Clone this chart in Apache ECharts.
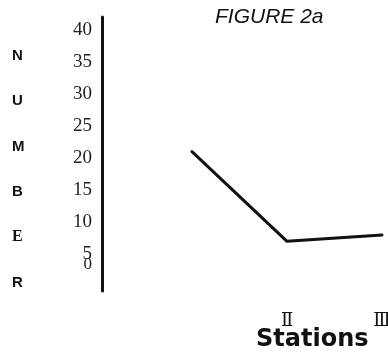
<!DOCTYPE html>
<html>
<head>
<meta charset="utf-8">
<script src="https://cdn.jsdelivr.net/npm/echarts@6/dist/echarts.min.js"></script>
<style>html,body{margin:0;padding:0;background:#fff;}#c{width:388px;height:358px;}</style>
</head>
<body>
<div id="c"></div>
<script>
const categories = ['Ⅰ', 'Ⅱ', 'Ⅲ'];
const values = [21, 7, 8];
const yTickValues = [5, 10, 15, 20, 25, 30, 35, 40];
const yZeroTick = [0];
const titleText = 'FIGURE 2a';
const xName = 'Stations';
const yNameLetters = ['N', 'U', 'M', 'B', 'E', 'R'];

const chart = echarts.init(document.getElementById('c'));
const yBase = {
  type: 'value', min: -0.75, max: 42, offset: 90, position: 'left',
  axisTick: { show: false }, splitLine: { show: false }
};
chart.setOption({
  animation: false,
  backgroundColor: '#fff',
  title: {
    text: titleText, left: 210, top: 2,
    textStyle: { fontFamily: 'Liberation Sans', fontStyle: 'italic', fontWeight: 'normal', fontSize: 21, color: '#111' }
  },
  grid: { left: 192, top: 17, width: 190, height: 274, containLabel: false, outerBoundsMode: 'none' },
  xAxis: {
    type: 'category', data: categories, boundaryGap: false,
    axisLine: { show: false }, axisTick: { show: false }, splitLine: { show: false },
    axisLabel: {
      margin: 21, fontFamily: 'DejaVu Serif', fontSize: 18, color: '#111',
      formatter: (v, i) => i === 0 ? '' : v
    }
  },
  yAxis: [
    Object.assign({}, yBase, {
      axisLine: { show: true, lineStyle: { color: '#111', width: 3 } },
      axisLabel: {
        customValues: yTickValues, margin: 10,
        fontFamily: 'Liberation Serif', fontSize: 19, color: '#222'
      }
    }),
    Object.assign({}, yBase, {
      axisLine: { show: false },
      axisLabel: {
        customValues: yZeroTick, margin: 10, showMinLabel: true,
        fontFamily: 'Liberation Serif', fontSize: 17, color: '#222',
        formatter: v => '{z|' + v + '}',
        rich: { z: { fontFamily: 'Liberation Serif', fontSize: 17, color: '#222', padding: [0, 0, 44, 0] } }
      }
    })
  ],
  graphic: [
    {
      type: 'text', left: 12, top: 33, z: 10,
      style: {
        text: yNameLetters.map(l => l === 'E' ? '{s|' + l + '}' : l).join('\n'),
        fontFamily: 'Liberation Sans', fontWeight: 'bold', fontSize: 15,
        fill: '#111', lineHeight: 45.4, align: 'center',
        rich: { s: { fontFamily: 'Liberation Serif', fontWeight: 'bold', fontSize: 16, fill: '#111', lineHeight: 45.4 } }
      }
    },
    {
      type: 'text', left: 256, top: 328, z: 10,
      style: { text: xName, fontFamily: 'DejaVu Sans', fontWeight: 'bold', fontSize: 24, fill: '#111' }
    }
  ],
  series: [{
    type: 'line', data: values, showSymbol: false, symbol: 'none', yAxisIndex: 0,
    lineStyle: { color: '#111', width: 3, cap: 'round', join: 'round' }
  }]
});
</script>
</body>
</html>
